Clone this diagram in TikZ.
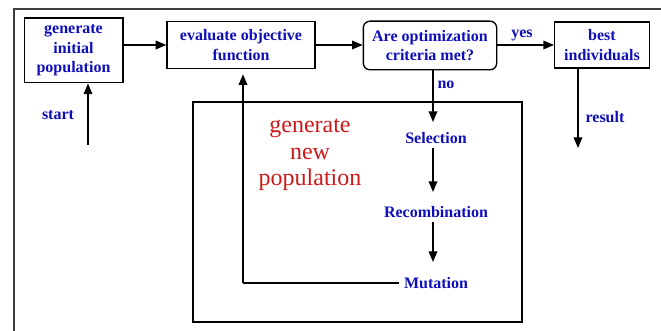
\documentclass[tikz,border=0pt]{standalone}
\usepackage{fontspec}
\setmainfont{Liberation Serif}
\usetikzlibrary{arrows.meta}
\definecolor{txtblue}{RGB}{15,15,185}
\definecolor{txtred}{RGB}{205,25,25}
\tikzset{
  box/.style={draw, line width=1pt, align=center, inner sep=1pt},
  lbl/.style={font=\bfseries\fontsize{12}{14.5}\selectfont, text=txtblue, align=center},
  arr/.style={line width=1pt, -{Triangle[length=8pt,width=6.5pt]}}
}
\begin{document}
\begin{tikzpicture}[x=0.75pt, y=-0.75pt]
\useasboundingbox (0,0) rectangle (661,331);
\draw[line width=1pt, black!75] (14,331) -- (14,9) -- (661,9);

\node[box, lbl, minimum width=74pt, minimum height=48.5pt] (init) at (73.5,50.5) {generate\\initial\\population};
\node[box, lbl, minimum width=111pt, minimum height=35pt] (eval) at (241,45) {evaluate objective\\function};
\node[box, lbl, rounded corners=5pt, minimum width=100pt, minimum height=36.5pt] (crit) at (430,45.5) {Are optimization\\criteria met?};
\node[box, lbl, minimum width=71pt, minimum height=34.5pt] (best) at (602,45) {best\\individuals};

\node[draw, line width=1pt, minimum width=246.75pt, minimum height=165pt] (newpop) at (357.5,212) {};
\node[font=\fontsize{18}{20}\selectfont, text=txtred, align=center] (gentxt) at (310,155) {generate\\new\\population};

\node[lbl] (sel) at (436,138) {Selection};
\node[lbl] (rec) at (436,212) {Recombination};
\node[lbl] (mut) at (436,283) {Mutation};

\node[lbl] (startlbl) at (58,115) {start};
\node[lbl] (yeslbl) at (522,35) {yes};
\node[lbl] (nolbl) at (446,85) {no};
\node[lbl] (reslbl) at (605,117) {result};

\coordinate (start) at (88,145);
\coordinate (res) at (578,148);
\coordinate (back) at (243,283);

\draw[arr] (start) -- (start |- init.south);
\draw[arr] (init.east |- eval.west) -- (eval.west);
\draw[arr] (eval.east) -- (crit.west |- eval.east);
\draw[arr] (crit.east |- best.west) -- (best.west);
\draw[arr] (best.south -| res) -- (res);
\draw[arr] (crit.south -| 433,0) -- (433,122);
\draw[arr] (sel.south -| 433,0) -- (433,192);
\draw[arr] (rec.south -| 433,0) -- (433,262);
\draw[line width=1pt] (mut.west) -- (back);
\draw[arr, shorten >=4pt] (back) -- (back |- eval.south);
\end{tikzpicture}
\end{document}
